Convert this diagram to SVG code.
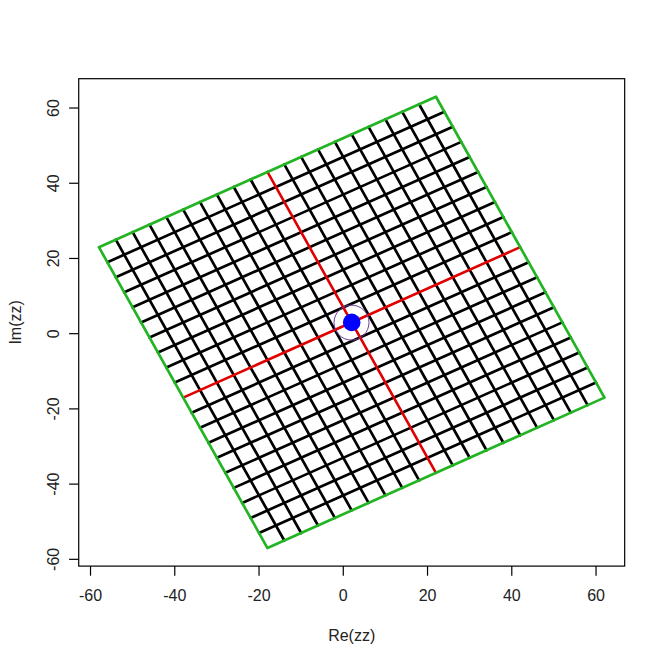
<svg xmlns="http://www.w3.org/2000/svg" width="665" height="664" viewBox="0 0 665 664">
<style>
.bg{fill:#ffffff}
.box{fill:none;stroke:#000;stroke-width:1.2}
.tick{stroke:#000;stroke-width:1.2}
.lbl{font-family:"Liberation Sans",Arial,sans-serif;font-size:16px;fill:#222;text-anchor:middle}
.grid line{stroke:#000;stroke-width:2.7;stroke-linecap:round}
.red line{stroke:#e00000;stroke-width:2.6;stroke-linecap:round}
.border{fill:none;stroke:#22b422;stroke-width:2.7;stroke-linejoin:round}
</style>
<rect class="bg" x="0" y="0" width="665" height="664"/>
<g id="grid" class="grid">
<line x1="115.79" y1="239.66" x2="284.30" y2="540.52"/>
<line x1="132.64" y1="232.14" x2="301.15" y2="533.00"/>
<line x1="149.49" y1="224.62" x2="318.00" y2="525.48"/>
<line x1="166.34" y1="217.09" x2="334.85" y2="517.95"/>
<line x1="183.20" y1="209.57" x2="351.71" y2="510.43"/>
<line x1="200.05" y1="202.05" x2="368.56" y2="502.91"/>
<line x1="216.90" y1="194.53" x2="385.41" y2="495.39"/>
<line x1="233.75" y1="187.01" x2="402.26" y2="487.87"/>
<line x1="250.60" y1="179.49" x2="419.11" y2="480.35"/>
<line x1="284.30" y1="164.44" x2="452.81" y2="465.30"/>
<line x1="301.15" y1="156.92" x2="469.66" y2="457.78"/>
<line x1="318.00" y1="149.40" x2="486.51" y2="450.26"/>
<line x1="334.85" y1="141.88" x2="503.36" y2="442.74"/>
<line x1="351.71" y1="134.36" x2="520.22" y2="435.22"/>
<line x1="368.56" y1="126.83" x2="537.07" y2="427.69"/>
<line x1="385.41" y1="119.31" x2="553.92" y2="420.17"/>
<line x1="402.26" y1="111.79" x2="570.77" y2="412.65"/>
<line x1="419.11" y1="104.27" x2="587.62" y2="405.13"/>
<line x1="107.37" y1="262.22" x2="444.39" y2="111.79"/>
<line x1="115.79" y1="277.27" x2="452.81" y2="126.84"/>
<line x1="124.22" y1="292.31" x2="461.24" y2="141.88"/>
<line x1="132.64" y1="307.35" x2="469.66" y2="156.92"/>
<line x1="141.07" y1="322.40" x2="478.09" y2="171.97"/>
<line x1="149.49" y1="337.44" x2="486.51" y2="187.01"/>
<line x1="157.92" y1="352.48" x2="494.94" y2="202.05"/>
<line x1="166.34" y1="367.52" x2="503.36" y2="217.09"/>
<line x1="174.77" y1="382.57" x2="511.79" y2="232.14"/>
<line x1="191.62" y1="412.65" x2="528.64" y2="262.22"/>
<line x1="200.04" y1="427.70" x2="537.06" y2="277.27"/>
<line x1="208.47" y1="442.74" x2="545.49" y2="292.31"/>
<line x1="216.90" y1="457.78" x2="553.92" y2="307.35"/>
<line x1="225.32" y1="472.82" x2="562.34" y2="322.39"/>
<line x1="233.75" y1="487.87" x2="570.77" y2="337.44"/>
<line x1="242.17" y1="502.91" x2="579.19" y2="352.48"/>
<line x1="250.60" y1="517.95" x2="587.62" y2="367.52"/>
<line x1="259.02" y1="532.99" x2="596.04" y2="382.56"/>
</g>
<g id="axes-center" class="red">
<line x1="267.45" y1="171.96" x2="435.96" y2="472.82"/>
<line x1="183.19" y1="397.61" x2="520.21" y2="247.18"/>
</g>
<g id="border">
<polygon class="border" points="98.94,247.18 435.96,96.75 604.47,397.61 267.45,548.04"/>
</g>
<g id="center-point">
<circle cx="351.5" cy="322.6" r="17.5" fill="none" stroke="#6a3d9a" stroke-width="1"/>
<circle cx="351.7" cy="322.4" r="8.8" fill="#0000ff"/>
</g>
<g id="frame">
<rect class="box" x="78.72" y="78.7" width="545.96" height="487.4"/>
<g class="tick">
<line x1="90.52" y1="566.1" x2="90.52" y2="575.7"/>
<line x1="174.77" y1="566.1" x2="174.77" y2="575.7"/>
<line x1="259.03" y1="566.1" x2="259.03" y2="575.7"/>
<line x1="343.28" y1="566.1" x2="343.28" y2="575.7"/>
<line x1="427.53" y1="566.1" x2="427.53" y2="575.7"/>
<line x1="511.79" y1="566.1" x2="511.79" y2="575.7"/>
<line x1="596.04" y1="566.1" x2="596.04" y2="575.7"/>
<line x1="78.72" y1="108.03" x2="69.12" y2="108.03"/>
<line x1="78.72" y1="183.25" x2="69.12" y2="183.25"/>
<line x1="78.72" y1="258.46" x2="69.12" y2="258.46"/>
<line x1="78.72" y1="333.68" x2="69.12" y2="333.68"/>
<line x1="78.72" y1="408.90" x2="69.12" y2="408.90"/>
<line x1="78.72" y1="484.11" x2="69.12" y2="484.11"/>
<line x1="78.72" y1="559.33" x2="69.12" y2="559.33"/>
</g>
<g class="lbl">
<text x="90.52" y="601">-60</text>
<text x="174.77" y="601">-40</text>
<text x="259.03" y="601">-20</text>
<text x="343.28" y="601">0</text>
<text x="427.53" y="601">20</text>
<text x="511.79" y="601">40</text>
<text x="596.04" y="601">60</text>
<text transform="translate(58.5,108.03) rotate(-90)">60</text>
<text transform="translate(58.5,183.25) rotate(-90)">40</text>
<text transform="translate(58.5,258.46) rotate(-90)">20</text>
<text transform="translate(58.5,333.68) rotate(-90)">0</text>
<text transform="translate(58.5,408.90) rotate(-90)">-20</text>
<text transform="translate(58.5,484.11) rotate(-90)">-40</text>
<text transform="translate(58.5,559.33) rotate(-90)">-60</text>
<text x="351.7" y="641">Re(zz)</text>
<text transform="translate(20.5,322.4) rotate(-90)">Im(zz)</text>
</g>
</g>
</svg>
